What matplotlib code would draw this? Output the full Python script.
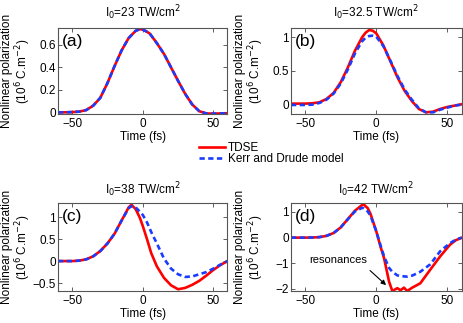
# coding: utf-8
import matplotlib
matplotlib.use("Agg")
import matplotlib.pyplot as plt

plt.rcParams['font.family'] = ['Liberation Sans', 'DejaVu Sans']
plt.rcParams['font.size'] = 8.5
plt.rcParams['axes.unicode_minus'] = True

# panel (a) I0 = 23 TW/cm2
t_a = [-60, -55, -50, -45, -40, -35, -30, -25, -20, -15, -10, -5, -2, 0, 2.5, 5, 10, 15, 20, 25, 30, 35, 40, 45, 50, 55, 60]
tdse_a = [0, 0, 0.002, 0.006, 0.02, 0.06, 0.13, 0.26, 0.41, 0.55, 0.66, 0.725, 0.74, 0.735, 0.72, 0.70, 0.615, 0.52, 0.40, 0.28, 0.165, 0.07, 0.01, -0.01, -0.012, -0.01, -0.008]
kerr_a = [0, 0, 0.002, 0.006, 0.02, 0.06, 0.13, 0.26, 0.41, 0.55, 0.66, 0.725, 0.74, 0.735, 0.72, 0.70, 0.615, 0.52, 0.40, 0.28, 0.165, 0.07, 0.01, -0.01, -0.012, -0.01, -0.008]

# panel (b) I0 = 32.5 TW/cm2
t_b = [-60, -55, -50, -45, -40, -35, -30, -25, -20, -15, -10, -7.5, -5, -2.5, 0, 5, 10, 15, 20, 25, 30, 35, 40, 45, 50, 55, 60]
tdse_b = [0.01, 0.01, 0.01, 0.015, 0.03, 0.08, 0.17, 0.33, 0.55, 0.80, 1.00, 1.07, 1.11, 1.10, 1.06, 0.88, 0.64, 0.40, 0.20, 0.05, -0.07, -0.12, -0.11, -0.07, -0.04, -0.02, 0.0]
kerr_b = [-0.01, -0.01, -0.01, -0.005, 0.02, 0.07, 0.16, 0.31, 0.52, 0.76, 0.94, 0.995, 1.02, 1.025, 1.01, 0.87, 0.65, 0.42, 0.22, 0.07, -0.06, -0.12, -0.12, -0.08, -0.05, -0.02, -0.005]

# panel (c) I0 = 38 TW/cm2
t_c = [-60, -50, -45, -40, -35, -30, -25, -20, -15, -10, -8, -5, -2, 0, 3, 6, 10, 15, 20, 25, 30, 35, 40, 45, 50, 55, 60]
tdse_c = [0, 0, 0.01, 0.04, 0.11, 0.23, 0.40, 0.62, 0.92, 1.22, 1.28, 1.18, 0.98, 0.80, 0.50, 0.18, -0.12, -0.38, -0.55, -0.64, -0.61, -0.54, -0.45, -0.33, -0.20, -0.09, 0.0]
kerr_c = [0, 0, 0.01, 0.04, 0.11, 0.23, 0.40, 0.62, 0.92, 1.20, 1.25, 1.22, 1.12, 1.05, 0.88, 0.66, 0.40, 0.06, -0.17, -0.30, -0.36, -0.35, -0.30, -0.25, -0.17, -0.08, 0.0]

# panel (d) I0 = 42 TW/cm2
t_d = [-60, -50, -45, -40, -35, -30, -25, -20, -15, -10, -9, -6, -4, 0, 3, 5.5, 9, 11.3, 14.8, 17.1, 19.5, 21.8, 25.3, 31, 38, 45, 52, 56, 60]
tdse_d = [0, 0, 0.005, 0.02, 0.07, 0.18, 0.40, 0.72, 1.05, 1.27, 1.30, 1.15, 0.92, 0.25, -0.35, -0.80, -1.71, -2.08, -1.97, -2.05, -1.95, -2.08, -1.95, -1.78, -1.25, -0.73, -0.27, -0.10, -0.01]
kerr_d = [0, 0, 0.005, 0.02, 0.07, 0.18, 0.40, 0.72, 1.02, 1.16, 1.15, 1.02, 0.85, 0.25, -0.30, -0.73, -1.18, -1.33, -1.47, -1.50, -1.51, -1.52, -1.48, -1.33, -1.04, -0.53, -0.21, -0.08, 0.0]

titles = ['I$_0$=23 TW/cm$^2$', 'I$_0$=32.5 TW/cm$^2$', 'I$_0$=38 TW/cm$^2$', 'I$_0$=42 TW/cm$^2$']
tags = ['(a)', '(b)', '(c)', '(d)']
ylims = [(-0.015, 0.75), (-0.145, 1.14), (-0.68, 1.32), (-2.08, 1.35)]
yticks = [[0, 0.2, 0.4, 0.6], [0, 0.5, 1], [-0.5, 0, 0.5, 1], [-2, -1, 0, 1]]

W, H = 463, 323
fig = plt.figure(figsize=(W / 100, H / 100), dpi=100)
# left, top, width, height in pixels; last value: ylabel block offset from the axes
boxes = [(58, 28, 169.5, 86, 41), (291, 28, 170.5, 86, 41), (58, 203, 169.5, 88, 41), (291, 203, 170.5, 88, 41)]
data = [(t_a, tdse_a, kerr_a), (t_b, tdse_b, kerr_b), (t_c, tdse_c, kerr_c), (t_d, tdse_d, kerr_d)]

for i in range(4):
    x0, y0, w, h, off = boxes[i]
    ax = fig.add_axes([x0 / W, 1 - (y0 + h) / H, w / W, h / H])
    t, p1, p2 = data[i]
    ax.plot(t, p1, color='#ff0000', lw=1.9, label='TDSE')
    ax.plot(t, p2, color='#1a3cff', lw=1.9, ls=(0, (2.0, 1.3)), label='Kerr and Drude model')
    ax.set_xlim(-60, 60)
    ax.set_ylim(*ylims[i])
    ax.set_xticks([-50, 0, 50])
    ax.set_yticks(yticks[i])
    ax.set_yticklabels([('%g' % v).replace('-', '\u2212') for v in yticks[i]])
    ax.tick_params(direction='in', top=True, right=True, length=3, width=0.6,
                   color='#444444', pad=1.5)
    ax.tick_params(axis='x', pad=3)
    for s in ax.spines.values():
        s.set_color('#555555')
        s.set_linewidth(0.8)
    ax.set_xlabel('Time (fs)', labelpad=0.5)
    ax.set_ylabel('Nonlinear polarization\n(10$^6$ C.m$^{-2}$)', linespacing=1.1)
    ax.yaxis.label.set_verticalalignment('center')
    ax.yaxis.set_label_coords(-off / w, 0.5)
    ax.set_title(titles[i], fontsize=8.5, pad=7.5 if i < 2 else 6.5)
    ax.text(0.02, 0.93, tags[i], transform=ax.transAxes, fontsize=12.5,
            ha='left', va='top')
    if i == 3:
        ax.annotate('resonances', xy=(6.9, -1.85), xytext=(-27, -0.87),
                    fontsize=8, ha='center', va='center',
                    arrowprops=dict(arrowstyle='-|>', color='black', lw=0.8,
                                    mutation_scale=7, shrinkA=3, shrinkB=0,
                                    relpos=(0.95, 0.0)))
    if i == 0:
        handles, labels = ax.get_legend_handles_labels()

fig.legend(handles, labels, loc='upper left', bbox_to_anchor=(199 / W, 1 - 142 / H),
           frameon=False, fontsize=8.5, handlelength=2.2, handletextpad=0.25,
           labelspacing=-0.05, borderpad=0, borderaxespad=0)

fig.savefig('out.png', dpi=100)
